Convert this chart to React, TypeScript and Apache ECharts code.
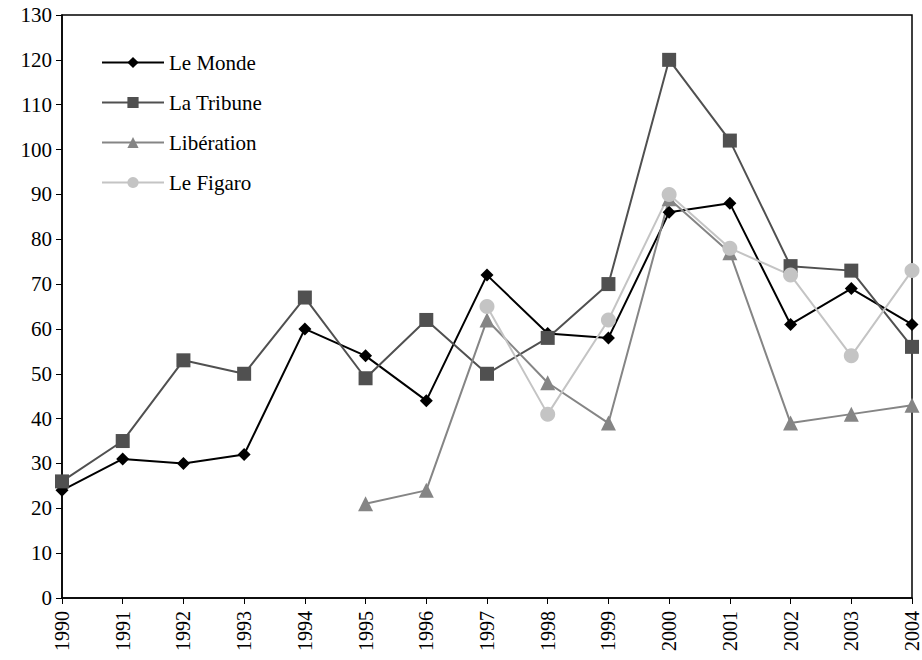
import React, { useEffect, useRef } from "react";
import * as echarts from "echarts";

const years = ["1990","1991","1992","1993","1994","1995","1996","1997","1998","1999","2000","2001","2002","2003","2004"];
const leMonde = [24, 31, 30, 32, 60, 54, 44, 72, 59, 58, 86, 88, 61, 69, 61];
const laTribune = [26, 35, 53, 50, 67, 49, 62, 50, 58, 70, 120, 102, 74, 73, 56];
const liberation = [null, null, null, null, null, 21, 24, 62, 48, 39, 89, 77, 39, 41, 43];
const leFigaro = [null, null, null, null, null, null, null, 65, 41, 62, 90, 78, 72, 54, 73];

const FONT = "'Liberation Serif', 'DejaVu Serif', serif";

export default function App() {
  const ref = useRef<HTMLDivElement>(null);
  useEffect(() => {
    const chart = echarts.init(ref.current!, null, { renderer: "svg" });
    const mk = (name: string, data: any[], color: string, symbol: string, size: number) => ({
      name,
      type: "line",
      data,
      symbol,
      symbolSize: size,
      connectNulls: false,
      itemStyle: { color },
      lineStyle: { color, width: 2 },
      emphasis: { disabled: true },
    });
    chart.setOption({
      animation: false,
      backgroundColor: "#fff",
      textStyle: { fontFamily: FONT },
      legend: {
        orient: "vertical",
        left: 96,
        top: 47,
        itemWidth: 62,
        itemHeight: 14,
        itemGap: 19,
        textStyle: { fontFamily: FONT, fontSize: 21, lineHeight: 20, color: "#000" },
        data: ["Le Monde", "La Tribune", "Libération", "Le Figaro"],
      },
      grid: { left: 62, right: 10, top: 15, bottom: 62, show: true, borderColor: "#000", borderWidth: 1.5 },
      xAxis: {
        type: "category",
        data: years,
        boundaryGap: false,
        axisLine: { lineStyle: { color: "#000", width: 1.5 } },
        axisTick: { alignWithLabel: true, length: 6, lineStyle: { color: "#000" } },
        axisLabel: { rotate: 90, color: "#000", fontSize: 20, fontFamily: FONT, margin: 13, interval: 0 },
        splitLine: { show: false },
      },
      yAxis: {
        type: "value",
        min: 0,
        max: 130,
        interval: 10,
        axisLine: { show: true, lineStyle: { color: "#000", width: 1.5 } },
        axisTick: { show: true, length: 6, lineStyle: { color: "#000" } },
        axisLabel: { color: "#000", fontSize: 21, fontFamily: FONT, margin: 10 },
        splitLine: { show: false },
      },
      series: [
        mk("Le Monde", leMonde, "#000000", "diamond", 13),
        mk("La Tribune", laTribune, "#505050", "rect", 14),
        mk("Libération", liberation, "#858585", "triangle", 15),
        mk("Le Figaro", leFigaro, "#c4c4c4", "circle", 15),
      ],
    });
    return () => chart.dispose();
  }, []);
  return <div ref={ref} style={{ width: 922, height: 660, position: "absolute", left: 0, top: 0 }} />;
}
